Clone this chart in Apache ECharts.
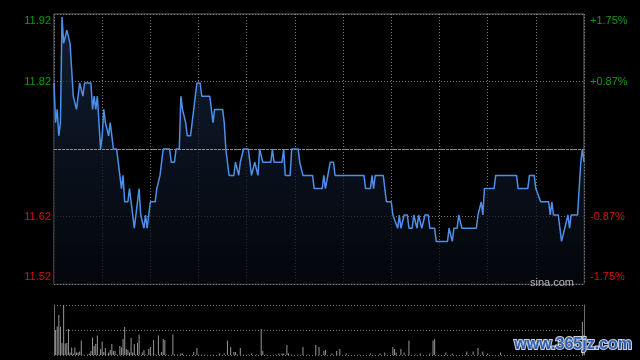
<!DOCTYPE html>
<html><head><meta charset="utf-8">
<script src="https://cdn.jsdelivr.net/npm/echarts@6/dist/echarts.min.js"></script>
<style>html,body{margin:0;padding:0;background:#000;}#c{width:640px;height:360px;}</style>
</head><body><div id="c"></div>
<script>
const prevClose = 11.72;
const rangePct = 1.745;
const totalMinutes = 330;
const priceTickLabels = ['11.52', '11.62', '', '11.82', '11.92'];
const pctTickLabels = ['-1.75%', '-0.87%', '', '+0.87%', '+1.75%'];

const minutes = [0,1,2,3,4,5,6,7,8,9,10,11,12,13,14,16,17,18,19,23,24,25,26,27,28,29,30,31,32,33,34,35,36,37,39,40,41,42,43,44,46,47,48,50,51,53,54,55,56,57,58,60,63,64,65,66,67,68,72,73,75,76,78,79,80,81,82,83,85,87,88,89,91,92,97,99,100,105,106,107,108,109,112,113,114,115,116,117,118,121,123,124,125,126,127,128,130,135,136,137,142,143,144,147,148,152,153,154,155,161,162,167,168,169,170,172,174,175,193,194,197,198,199,200,205,206,207,210,211,212,214,215,216,218,220,221,223,224,225,226,227,228,229,230,231,233,234,237,238,245,246,247,248,249,251,252,253,254,263,264,265,266,267,268,274,275,288,289,295,296,299,300,301,303,308,309,310,311,314,315,316,317,318,319,320,321,322,326,327,328,329,330];
const prices = [11.82,11.76,11.78,11.74,11.76,11.92,11.88,11.88,11.90,11.90,11.88,11.84,11.80,11.80,11.78,11.82,11.82,11.80,11.82,11.82,11.78,11.80,11.78,11.80,11.80,11.72,11.74,11.78,11.76,11.76,11.74,11.76,11.74,11.72,11.72,11.70,11.70,11.66,11.68,11.64,11.64,11.66,11.64,11.60,11.60,11.66,11.62,11.62,11.60,11.62,11.60,11.64,11.64,11.66,11.66,11.68,11.68,11.72,11.72,11.70,11.70,11.72,11.72,11.80,11.78,11.78,11.76,11.74,11.74,11.78,11.80,11.82,11.82,11.80,11.80,11.76,11.78,11.78,11.76,11.72,11.72,11.68,11.68,11.70,11.70,11.68,11.70,11.70,11.72,11.72,11.68,11.68,11.70,11.70,11.68,11.72,11.70,11.70,11.72,11.70,11.70,11.72,11.68,11.68,11.72,11.72,11.70,11.70,11.68,11.68,11.66,11.66,11.68,11.66,11.66,11.70,11.70,11.68,11.68,11.66,11.66,11.68,11.66,11.68,11.68,11.66,11.64,11.64,11.62,11.62,11.60,11.62,11.60,11.62,11.62,11.60,11.60,11.62,11.62,11.60,11.62,11.62,11.60,11.60,11.62,11.62,11.60,11.60,11.58,11.58,11.60,11.60,11.58,11.60,11.60,11.62,11.62,11.60,11.60,11.62,11.62,11.64,11.62,11.66,11.66,11.68,11.68,11.66,11.66,11.68,11.68,11.66,11.66,11.64,11.64,11.62,11.64,11.62,11.62,11.60,11.58,11.58,11.60,11.60,11.62,11.60,11.62,11.62,11.66,11.70,11.72,11.70];

const volMinutes = [1,2,3,4,5,6,7,8,9,10,11,12,13,14,15,16,17,18,21,22,23,24,25,26,27,28,29,30,31,32,33,34,35,36,37,38,39,41,42,43,44,45,46,47,48,49,50,51,52,53,55,56,57,59,60,61,62,63,65,66,67,68,69,70,74,75,77,79,80,87,89,90,92,94,99,103,106,108,110,112,113,114,116,118,121,123,126,129,130,132,138,140,142,143,145,146,148,152,155,158,163,165,168,169,173,176,178,182,190,197,203,206,211,212,213,216,218,221,225,228,234,236,237,244,248,257,261,264,267,270,278,329,330];
const volValues = [50,57,80,56,24,100,23,24,52,5,15,3,15,5,5,7,29,1,1,3,8,35,18,22,39,1,12,27,6,14,1,5,10,22,8,8,1,18,15,32,56,12,10,5,34,5,22,1,24,41,5,10,1,12,16,1,30,1,39,1,6,32,30,1,41,1,1,3,3,6,14,1,1,1,1,3,3,29,16,6,6,1,14,1,1,3,1,52,8,1,1,3,3,3,20,3,1,1,16,1,20,16,8,10,3,8,12,3,1,3,3,5,16,12,5,12,5,29,1,3,3,29,32,5,3,7,7,14,7,3,5,66,40];

const GREEN = '#139a13', RED = '#dc0f0f';
const FONT = 'Liberation Sans, Arial, sans-serif';
const chart = echarts.init(document.getElementById('c'), null, {renderer: 'canvas'});
const labelRich = {
  gt: {color: GREEN, padding: [13, 0, 0, 0], fontSize: 11, fontFamily: FONT},
  g: {color: GREEN, fontSize: 11, fontFamily: FONT},
  r: {color: RED, fontSize: 11, fontFamily: FONT},
  rb: {color: RED, padding: [0, 0, 15, 0], fontSize: 11, fontFamily: FONT}
};
function fmt(arr) {
  return function (v, idx) {
    const t = arr[idx];
    if (!t) return '';
    const s = idx === 4 ? 'gt' : idx === 3 ? 'g' : idx === 1 ? 'r' : 'rb';
    return '{' + s + '|' + t + '}';
  };
}
const dotted = {color: '#7a7a7a', width: 1, type: [1, 2]};
chart.setOption({
  backgroundColor: '#000',
  animation: false,
  title: {text: 'sina.com', right: 61, top: 272, textStyle: {color: '#b4b4b4', fontSize: 11, fontWeight: 'normal', fontFamily: FONT}},
  graphic: [{type: 'text', right: 7, bottom: 6, z: 100, style: {text: 'www.365jz.com', font: 'bold 16px "Liberation Sans", Arial, sans-serif', fill: '#2f5fae', stroke: '#c8d0dc', lineWidth: 2}}],
  grid: [
    {left: 54, right: 56, top: 14, height: 270, show: true, borderColor: '#6e6e6e', borderWidth: 1},
    {left: 54, right: 56, top: 305, height: 50}
  ],
  xAxis: [
    {gridIndex: 0, type: 'value', min: 0, max: totalMinutes, interval: 30, axisLine: {show: false}, axisTick: {show: false}, axisLabel: {show: false}, splitLine: {show: true, lineStyle: dotted}},
    {gridIndex: 1, type: 'value', min: 0, max: totalMinutes, axisLine: {show: false}, axisTick: {show: false}, axisLabel: {show: false}, splitLine: {show: false}}
  ],
  yAxis: [
    {gridIndex: 0, type: 'value', min: prevClose * (1 - rangePct / 100), max: prevClose * (1 + rangePct / 100), show: false, splitLine: {show: false}},
    {gridIndex: 0, type: 'value', position: 'left', min: -rangePct, max: rangePct, interval: rangePct / 2,
      axisLine: {show: false}, axisTick: {show: false}, splitLine: {show: true, lineStyle: dotted},
      axisLabel: {margin: 3, formatter: fmt(priceTickLabels), rich: labelRich}},
    {gridIndex: 0, type: 'value', position: 'right', min: -rangePct, max: rangePct, interval: rangePct / 2,
      axisLine: {show: false}, axisTick: {show: false}, splitLine: {show: false},
      axisLabel: {margin: 6, formatter: fmt(pctTickLabels), rich: labelRich}},
    {gridIndex: 1, type: 'value', position: 'left', min: 0, max: 100, interval: 50,
      axisLine: {show: true, lineStyle: {color: '#6e6e6e'}}, axisTick: {show: false}, axisLabel: {show: false},
      splitLine: {show: true, lineStyle: dotted}},
    {gridIndex: 1, type: 'value', position: 'right', min: 0, max: 100, interval: 50,
      axisLine: {show: true, lineStyle: {color: '#6e6e6e'}}, axisTick: {show: false}, axisLabel: {show: false},
      splitLine: {show: false}}
  ],
  series: [
    {type: 'line', xAxisIndex: 0, yAxisIndex: 0, data: minutes.map((m, k) => [m, prices[k]]),
      symbol: 'none', lineStyle: {color: '#4d8fe8', width: 1.5},
      areaStyle: {color: new echarts.graphic.LinearGradient(0, 0, 0, 1, [{offset: 0, color: '#172a47'}, {offset: 1, color: '#05080e'}])},
      markLine: {silent: true, symbol: 'none', label: {show: false}, lineStyle: {color: '#8c8c8c', type: [3, 1], width: 1},
        data: [{yAxis: prevClose}]}
    },
    {type: 'bar', xAxisIndex: 1, yAxisIndex: 3, data: volMinutes.map((m, k) => [m, volValues[k]]),
      barWidth: 1, itemStyle: {color: '#969696'}}
  ]
});
</script></body></html>
